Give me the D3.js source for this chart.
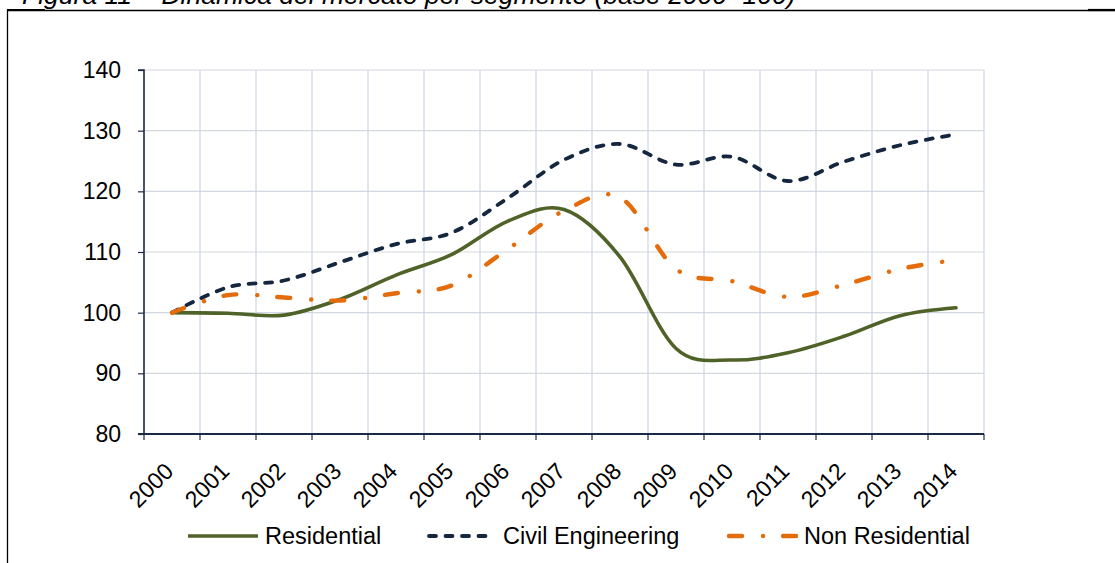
<!DOCTYPE html>
<html>
<head>
<meta charset="utf-8">
<script src="https://cdn.jsdelivr.net/npm/d3@7"></script>
<style>
  html, body { margin: 0; padding: 0; background: #fff; }
  svg { display: block; font-family: "Liberation Sans", Arial, sans-serif; }
</style>
</head>
<body>
<div id="chart"></div>
<script>
// ============================================
// DATA (index, base 2000 = 100)
// ============================================
const years = ['2000', '2001', '2002', '2003', '2004', '2005', '2006', '2007',
               '2008', '2009', '2010', '2011', '2012', '2013', '2014'];
const residential    = [100, 99.9, 99.6, 102.2, 106.2, 109.6, 115.1, 117.0, 109.2, 94.1, 92.2, 93.4, 96.1, 99.5, 100.8];
const civilEng       = [100, 104.2, 105.3, 108.3, 111.3, 113.2, 118.9, 125.2, 127.8, 124.4, 125.7, 121.7, 124.9, 127.6, 129.4];
const nonResidential = [100, 102.9, 102.5, 102.0, 103.2, 104.5, 110.5, 116.8, 119.0, 107.2, 105.2, 102.6, 104.6, 107.2, 108.7];
const yTicks = [80, 90, 100, 110, 120, 130, 140];
const seriesNames = ['Residential', 'Civil Engineering', 'Non Residential'];
const titleText = 'Figura 11 – Dinamica del mercato per segmento (base 2000=100)';

function renderChart() {
  const width = 1115, height = 563;
  const plot = { left: 144, right: 984, top: 70, bottom: 434 };

  const svg = d3.select('#chart').append('svg')
    .attr('width', width)
    .attr('height', height);

  // frame of the document box + title (cut at the top, as in the source page)
  svg.append('text')
    .attr('x', 22).attr('y', 4)
    .attr('font-size', '26.5px')
    .attr('font-style', 'italic')
    .attr('fill', '#000')
    .text(titleText);

  svg.append('path')
    .attr('d', `M7.5,${height + 2} V10.5 H${width + 2}`)
    .attr('fill', 'none')
    .attr('stroke', '#000')
    .attr('stroke-width', 1.3);
  svg.append('line').attr('x1', 7).attr('x2', 45).attr('y1', 10).attr('y2', 10)
    .attr('stroke', '#000').attr('stroke-width', 2.2);
  svg.append('line').attr('x1', 1088).attr('x2', width).attr('y1', 10).attr('y2', 10)
    .attr('stroke', '#000').attr('stroke-width', 2.2);

  // scales
  const x = d3.scaleBand().domain(years).range([plot.left, plot.right]).padding(0);
  const y = d3.scaleLinear().domain([80, 140]).range([plot.bottom, plot.top]);
  const cx = d => x(d) + x.bandwidth() / 2;

  // gridlines
  svg.append('g')
    .selectAll('line')
    .data(yTicks.slice(1))
    .join('line')
    .attr('x1', plot.left).attr('x2', plot.right)
    .attr('y1', d => y(d)).attr('y2', d => y(d))
    .attr('stroke', '#d3d7df').attr('stroke-width', 1.2);

  svg.append('g')
    .selectAll('line')
    .data(years)
    .join('line')
    .attr('x1', d => x(d) + x.bandwidth()).attr('x2', d => x(d) + x.bandwidth())
    .attr('y1', plot.top).attr('y2', plot.bottom)
    .attr('stroke', '#cdd5e8').attr('stroke-width', 1.2);

  // axes
  const axisColor = '#1b2a44';
  const yAxis = svg.append('g')
    .attr('transform', `translate(${plot.left},0)`)
    .call(d3.axisLeft(y).tickValues(yTicks).tickSize(6).tickPadding(17));
  yAxis.select('.domain').attr('stroke', axisColor).attr('stroke-width', 1.6)
    .attr('d', `M-6,${plot.top}H0V${plot.bottom}`);
  yAxis.selectAll('.tick line').attr('stroke', axisColor).attr('stroke-width', 1.2);
  yAxis.selectAll('.tick text')
    .attr('font-size', '23px')
    .attr('font-family', '"Liberation Sans", Arial, sans-serif')
    .attr('fill', '#000');

  const xAxis = svg.append('g').attr('transform', `translate(0,${plot.bottom})`);
  xAxis.append('line')
    .attr('x1', plot.left - 6).attr('x2', plot.right)
    .attr('y1', 0).attr('y2', 0)
    .attr('stroke', axisColor).attr('stroke-width', 2);
  xAxis.selectAll('.xtick')
    .data([x(years[0])].concat(years.map(d => x(d) + x.bandwidth())))
    .join('line')
    .attr('class', 'xtick')
    .attr('x1', d => d).attr('x2', d => d)
    .attr('y1', 0).attr('y2', 6)
    .attr('stroke', axisColor).attr('stroke-width', 1.2);
  xAxis.selectAll('.xlabel')
    .data(years)
    .join('text')
    .attr('class', 'xlabel')
    .attr('transform', d => `translate(${cx(d) - 3},33) rotate(-45)`)
    .attr('text-anchor', 'end')
    .attr('dy', '0.35em')
    .attr('font-size', '23px')
    .attr('fill', '#000')
    .text(d => d);

  // lines
  const series = [
    { name: seriesNames[0], values: residential, color: '#4f6228', width: 3.6, dash: null },
    { name: seriesNames[1], values: civilEng, color: '#14273f', width: 3.8, dash: '7,9.5' },
    { name: seriesNames[2], values: nonResidential, color: '#e46c0a', width: 4.4, dash: '13,21,0.1,20' }
  ];

  const line = d3.line()
    .x((d, i) => cx(years[i]))
    .y(d => y(d))
    .curve(d3.curveCatmullRom.alpha(0));

  svg.append('g')
    .selectAll('path')
    .data(series)
    .join('path')
    .attr('fill', 'none')
    .attr('stroke', d => d.color)
    .attr('stroke-width', d => d.width)
    .attr('stroke-linecap', 'round')
    .attr('stroke-linejoin', 'round')
    .attr('stroke-dasharray', d => d.dash)
    .attr('d', d => line(d.values));

  // legend
  const legend = [
    { x1: 188, x2: 258, tx: 265 },
    { x1: 429, x2: 491, tx: 503 },
    { x1: 729, x2: 797, tx: 804 }
  ];
  const ly = 536;
  const lg = svg.append('g');
  series.forEach((s, i) => {
    const p = legend[i];
    lg.append('line')
      .attr('x1', p.x1).attr('x2', p.x2)
      .attr('y1', ly).attr('y2', ly)
      .attr('stroke', s.color)
      .attr('stroke-width', s.width)
      .attr('stroke-linecap', s.dash ? 'round' : 'butt')
      .attr('stroke-dasharray', s.dash);
    lg.append('text')
      .attr('x', p.tx).attr('y', ly)
      .attr('dy', '0.35em')
      .attr('font-size', '23.5px')
      .attr('fill', '#000')
      .text(s.name);
  });
}

renderChart();
</script>
</body>
</html>
